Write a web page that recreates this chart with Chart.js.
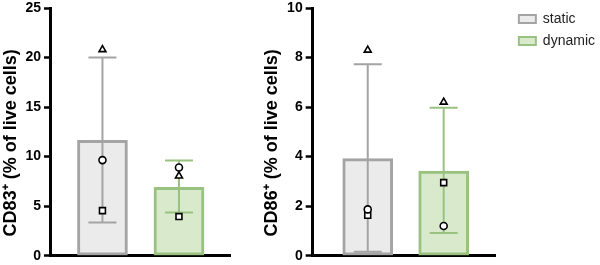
<!DOCTYPE html>
<html><head><meta charset="utf-8">
<script src="https://cdn.jsdelivr.net/npm/chart.js@4.4.1/dist/chart.umd.min.js"></script>
<style>
html,body{margin:0;padding:0;background:#fff;overflow:hidden;width:600px;height:265px;}
#w1{position:absolute;left:0;top:0;width:260px;height:265px;}
#w2{position:absolute;left:260px;top:0;width:345px;height:265px;}
</style></head><body>
<div id="w1"><canvas id="c1"></canvas></div>
<div id="w2"><canvas id="c2"></canvas></div>
<script>
// ---- data ----
const groups = ['static', 'dynamic'];
const groupX = [1, 2];
const cd83Mean = [11.65, 6.9];
const cd83Upper = [20.0, 9.6];
const cd83Lower = [3.35, 4.35];
const cd83Static = [20.8, 9.65, 4.55];   // donors: triangle, circle, square
const cd83Dynamic = [8.05, 8.9, 3.95];
const cd86Mean = [3.92, 3.42];
const cd86Upper = [7.73, 5.97];
const cd86Lower = [0.16, 0.92];
const cd86Static = [8.3, 1.87, 1.63];
const cd86Dynamic = [6.2, 1.2, 2.95];
const cd83Ticks = [0, 5, 10, 15, 20, 25];
const cd86Ticks = [0, 2, 4, 6, 8, 10];

// ---- styling ----
const FONT = "'Liberation Sans', Arial, sans-serif";
const fills = ['#ebebeb', '#d9eacc'];
const borders = ['#a4a4a4', '#99c281'];
const shapes = ['triangle', 'circle', 'rect'];
const radii = [4, 3.5, 4.2];

const errorBars = {
  id: 'errorBars',
  afterDatasetDraw(chart, args) {
    const ds = chart.data.datasets[args.index];
    if (ds.errUpper === undefined) return;
    const xs = chart.scales.x, ys = chart.scales.y, ctx = chart.ctx;
    ctx.save();
    ctx.strokeStyle = ds.borderColor;
    ctx.lineWidth = 2;
    const x = xs.getPixelForValue(ds.data[0].x);
    const yu = ys.getPixelForValue(ds.errUpper);
    const yl = ys.getPixelForValue(ds.errLower);
    const cap = 14;
    ctx.beginPath();
    ctx.moveTo(x, yu); ctx.lineTo(x, yl);
    ctx.moveTo(x - cap, yu); ctx.lineTo(x + cap, yu);
    ctx.moveTo(x - cap, yl); ctx.lineTo(x + cap, yl);
    ctx.stroke();
    ctx.restore();
  }
};

// let the legend take the width it needs (layout would otherwise cap it)
const legendFit = {
  id: 'legendFit',
  afterInit(chart) {
    const lg = chart.legend;
    if (!lg) return;
    const orig = lg.fit;
    lg.fit = function () { const mw = this.maxWidth; this.maxWidth = 400; orig.call(this); this.maxWidth = mw; };
  }
};

// shift the y-axis title downward a little along the axis, as in the reference
const titleShift = {
  id: 'titleShift',
  beforeDraw(chart) {
    const s = chart.scales.y;
    if (!s || s._shifted) return;
    const orig = s.drawTitle;
    s.drawTitle = function () { const c = this.ctx; c.save(); c.translate(0, 11); orig.call(this); c.restore(); };
    s._shifted = true;
  }
};

function build(canvasId, mean, upper, lower, sVals, dVals, ticks, title, xmin, xmax, withLegend, pad) {
  const datasets = [];
  groups.forEach((g, i) => {
    datasets.push({
      type: 'bar', label: g,
      data: [{ x: groupX[i], y: mean[i] }],
      backgroundColor: fills[i], borderColor: borders[i], borderWidth: 3,
      borderSkipped: false, barThickness: 50, order: 2,
      errUpper: upper[i], errLower: lower[i]
    });
  });
  shapes.forEach((sh, k) => {
    datasets.push({
      type: 'scatter', label: 'donor' + (k + 1),
      data: [{ x: groupX[0], y: sVals[k] }, { x: groupX[1], y: dVals[k] }],
      pointStyle: sh, pointRadius: radii[k], pointBackgroundColor: '#fff',
      pointBorderColor: '#000', pointBorderWidth: 1.6, order: 1
    });
  });
  const scales = {
    x: {
      type: 'linear', min: xmin, max: xmax, offset: false, stacked: true,
      ticks: { display: false, padding: 0 },
      grid: { display: false, drawTicks: false, offset: false },
      border: { display: true, color: '#000', width: 3 }
    },
    y: {
      min: ticks[0], max: ticks[ticks.length - 1],
      afterBuildTicks: s => { s.ticks = ticks.map(v => ({ value: v })); },
      afterFit: s => { s.paddingTop = 8; s.paddingBottom = 0; },
      border: { display: true, color: '#000', width: 3 },
      grid: { drawOnChartArea: false, drawTicks: true, tickLength: 7, tickWidth: 2.5, tickColor: '#000' },
      ticks: { color: '#000', font: { size: 14, weight: 'bold', family: FONT }, padding: 3 },
      title: { display: true, text: title, color: '#000', font: { size: 18, weight: 'bold', family: FONT }, padding: { top: 0, bottom: 0.8 } }
    }
  };
  if (withLegend) {
    scales.gap = {
      position: 'right', display: true,
      grid: { display: false, drawTicks: false }, border: { display: false },
      ticks: { display: false },
      afterFit: s => { s.width = 15; }
    };
  }
  return new Chart(document.getElementById(canvasId), {
    type: 'bar',
    data: { datasets },
    options: {
      responsive: true, maintainAspectRatio: false, animation: false,
      layout: { padding: pad },
      scales,
      plugins: {
        tooltip: { enabled: false },
        legend: {
          display: withLegend, position: 'right', align: 'start',
          title: { display: true, text: '', font: { size: 1 }, padding: { top: 2.8, bottom: 0 } },
          labels: {
            boxWidth: 17, boxHeight: 8, padding: 8, color: '#222',
            font: { size: 14, family: FONT },
            filter: item => groups.includes(item.text),
            generateLabels: chart => Chart.defaults.plugins.legend.labels.generateLabels(chart).map(l => Object.assign(l, { lineWidth: 2 }))
          }
        }
      }
    },
    plugins: [errorBars, legendFit, titleShift]
  });
}

build('c1', cd83Mean, cd83Upper, cd83Lower, cd83Static, cd83Dynamic, cd83Ticks, 'CD83⁺ (% of live cells)', 0.327, 2.667, false,
  { left: 0, top: 0, bottom: 9.3, right: 30 });
build('c2', cd86Mean, cd86Upper, cd86Lower, cd86Static, cd86Dynamic, cd86Ticks, 'CD86⁺ (% of live cells)', 0.275, 2.687, true,
  { left: 1.7, top: 0, bottom: 9.3, right: 0 });
</script>
</body></html>
